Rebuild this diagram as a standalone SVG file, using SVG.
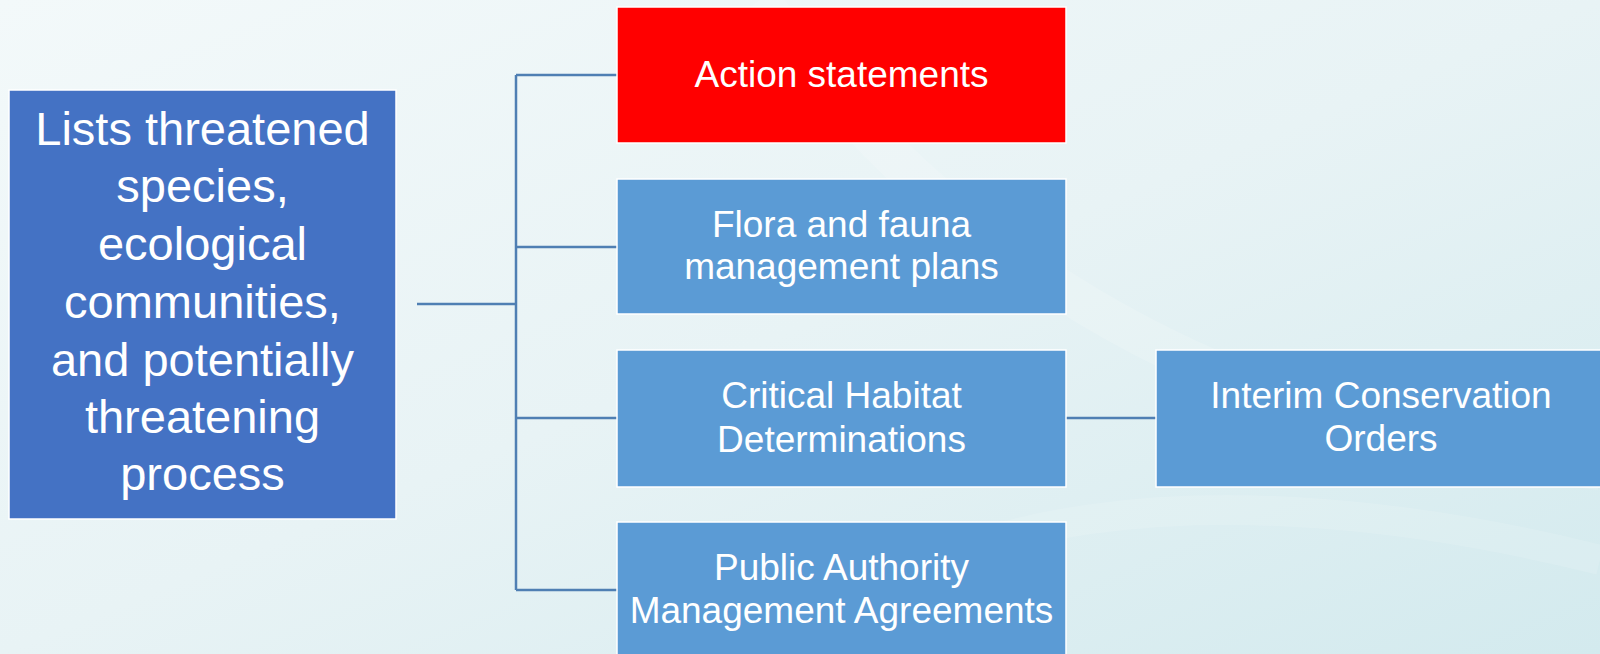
<svg xmlns="http://www.w3.org/2000/svg" width="1600" height="654" viewBox="0 0 1600 654">
  <defs>
    <linearGradient id="bg" x1="0" y1="0" x2="1" y2="1">
      <stop offset="0" stop-color="#f3f9fa"/>
      <stop offset="0.5" stop-color="#e8f3f5"/>
      <stop offset="1" stop-color="#d3eaee"/>
    </linearGradient>
    <style>
      .box { stroke: #ffffff; stroke-width: 1.5; }
      .main { fill: #4472c4; }
      .sub { fill: #5b9bd5; }
      .red { fill: #ff0000; }
      .t { font-family: "Liberation Sans", Arial, sans-serif; fill: #ffffff; text-anchor: middle; }
      .big { font-size: 47px; }
      .small { font-size: 37px; }
      .conn { stroke: #4f7fb3; stroke-width: 2.5; fill: none; }
    </style>
  </defs>
  <rect x="0" y="0" width="1600" height="654" fill="url(#bg)"/>
  <path d="M 760 0 C 900 200 1150 420 1600 470" fill="none" stroke="#ffffff" stroke-opacity="0.15" stroke-width="40"/>
  <path d="M 820 654 C 900 520 1200 460 1600 560" fill="none" stroke="#ffffff" stroke-opacity="0.12" stroke-width="30"/>

  <g id="connectors">
    <path class="conn" d="M 417 304 H 516"/>
    <path class="conn" d="M 516 75 V 590"/>
    <path class="conn" d="M 516 75 H 617"/>
    <path class="conn" d="M 516 247 H 617"/>
    <path class="conn" d="M 516 418 H 617"/>
    <path class="conn" d="M 516 590 H 617"/>
    <path class="conn" d="M 1066 418 H 1156"/>
  </g>

  <g id="lists">
    <rect class="box main" x="9" y="90" width="387" height="429"/>
    <text class="t big" x="202.5" y="145">Lists threatened</text>
    <text class="t big" x="202.5" y="202">species,</text>
    <text class="t big" x="202.5" y="260">ecological</text>
    <text class="t big" x="202.5" y="318">communities,</text>
    <text class="t big" x="202.5" y="376">and potentially</text>
    <text class="t big" x="202.5" y="433">threatening</text>
    <text class="t big" x="202.5" y="490">process</text>
  </g>

  <g id="action">
    <rect class="box red" x="617" y="7" width="449" height="136"/>
    <text class="t small" x="841.5" y="87">Action statements</text>
  </g>

  <g id="flora">
    <rect class="box sub" x="617" y="179" width="449" height="135"/>
    <text class="t small" x="841.5" y="237">Flora and fauna</text>
    <text class="t small" x="841.5" y="279">management plans</text>
  </g>

  <g id="critical">
    <rect class="box sub" x="617" y="350" width="449" height="137"/>
    <text class="t small" x="841.5" y="408">Critical Habitat</text>
    <text class="t small" x="841.5" y="452">Determinations</text>
  </g>

  <g id="public">
    <rect class="box sub" x="617" y="522" width="449" height="140"/>
    <text class="t small" x="841.5" y="580">Public Authority</text>
    <text class="t small" x="841.5" y="623">Management Agreements</text>
  </g>

  <g id="interim">
    <rect class="box sub" x="1156" y="350" width="452" height="137"/>
    <text class="t small" x="1381" y="408">Interim Conservation</text>
    <text class="t small" x="1381" y="451">Orders</text>
  </g>
</svg>
